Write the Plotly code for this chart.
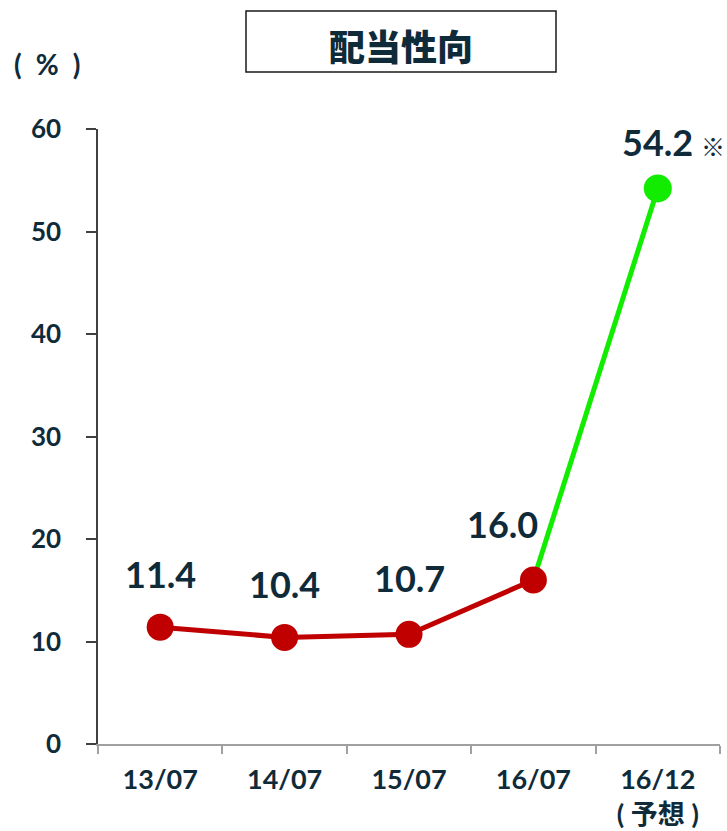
import plotly.graph_objects as go

# Payout ratio by fiscal period (%)
periods = ["13/07", "14/07", "15/07", "16/07", "16/12"]
period_labels = ["13/07", "14/07", "15/07", "16/07", "16/12<br>(\u2005予想\u2005)"]
payout = [11.4, 10.4, 10.7, 16.0, 54.2]
y_ticks = [0, 10, 20, 30, 40, 50, 60]

W, H = 727, 831
L, R, T, B = 98, 7, 129, 87
NAVY = "#0F2B3A"
RED = "#C00000"
GREEN = "#12EC00"
FONT = "Lato, Noto Sans CJK JP, sans-serif"


def px(x, y):
    """Convert page pixel position to paper coordinates."""
    pw = W - L - R
    ph = H - T - B
    return (x - L) / pw, (H - B - y) / ph


fig = go.Figure()

# forecast segment (drawn first so the actual-result marker sits on top)
fig.add_trace(go.Scatter(
    x=periods[3:], y=payout[3:], mode="lines",
    line=dict(color=GREEN, width=5),
    hoverinfo="skip", showlegend=False,
))
fig.add_trace(go.Scatter(
    x=periods[4:], y=payout[4:], mode="markers",
    marker=dict(color=GREEN, size=28, opacity=1, line=dict(width=0)),
    hoverinfo="skip", showlegend=False,
))
# actual results
fig.add_trace(go.Scatter(
    x=periods[:4], y=payout[:4], mode="lines+markers",
    line=dict(color=RED, width=5),
    marker=dict(color=RED, size=27, opacity=1, line=dict(width=0)),
    hoverinfo="skip", showlegend=False,
))

# value labels
offsets = [(0, 53), (0, 53), (0, 56), (-31, 56), (0, 46)]
for p, v, (dx, dy) in zip(periods, payout, offsets):
    fig.add_annotation(
        x=p, y=v, xref="x", yref="y", text=f"{v:.1f}", showarrow=False,
        xshift=dx, yshift=dy, xanchor="center", yanchor="middle",
        font=dict(family=FONT, size=36, color=NAVY, weight="bold"),
    )
fig.add_annotation(
    x=periods[4], y=payout[4], xref="x", yref="y", text="※", showarrow=False,
    xshift=55, yshift=43, xanchor="center", yanchor="middle",
    font=dict(family="Noto Sans CJK JP", size=24, color=NAVY, weight="bold"),
)

# title box
x0, y0 = px(246, 72)
x1, y1 = px(556, 11)
fig.add_shape(type="rect", xref="paper", yref="paper", x0=x0, y0=y0, x1=x1, y1=y1,
              line=dict(color="#1a1a1a", width=1.5), fillcolor="white")
tx, ty = px(401, 45)
fig.add_annotation(x=tx, y=ty, xref="paper", yref="paper", text="配当性向",
                   showarrow=False, xanchor="center", yanchor="middle",
                   font=dict(family="Noto Sans CJK JP", size=36, color=NAVY, weight=900))

# unit label
ux, uy = px(47, 64)
fig.add_annotation(x=ux, y=uy, xref="paper", yref="paper", text="(\u2002%\u2002)",
                   showarrow=False, xanchor="center", yanchor="middle",
                   font=dict(family=FONT, size=28, color=NAVY, weight="bold"))

fig.update_xaxes(
    type="category", categoryorder="array", categoryarray=periods,
    tickmode="array", tickvals=periods, ticktext=period_labels,
    range=[-0.5, 4.5], tickson="boundaries", automargin=False,
    showline=True, linecolor="#A0A0A0", linewidth=1.5,
    ticks="outside", ticklen=8, tickcolor="#A0A0A0", tickwidth=1.5,
    showgrid=False, zeroline=False, ticklabelstandoff=11,
    tickfont=dict(family=FONT, size=27, color=NAVY, weight="bold"),
)
fig.update_yaxes(
    range=[0, 60], tickmode="array", tickvals=y_ticks, automargin=False,
    showline=True, linecolor="#404040", linewidth=1.5,
    ticks="outside", ticklen=10, tickcolor="#404040", tickwidth=1.5,
    showgrid=False, zeroline=False, ticklabelstandoff=20,
    tickfont=dict(family=FONT, size=26, color=NAVY, weight="bold"),
)

fig.update_layout(
    width=W, height=H,
    margin=dict(l=L, r=R, t=T, b=B),
    plot_bgcolor="white", paper_bgcolor="white",
    showlegend=False,
)

fig.write_html("out.html")
